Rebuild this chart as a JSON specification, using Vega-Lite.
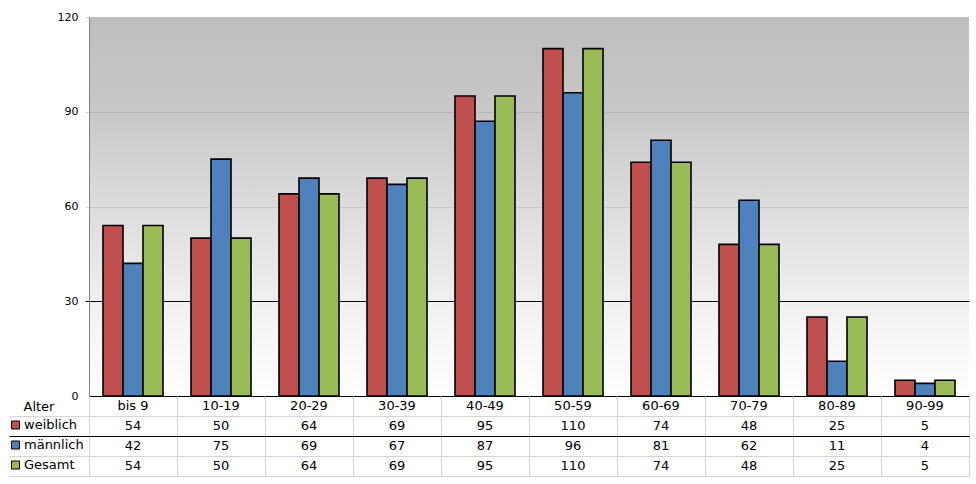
{
  "$schema": "https://vega.github.io/schema/vega-lite/v6.json",
  "background": "white",
  "padding": {"left": 8, "top": 11, "right": 8, "bottom": 5},
  "bounds": "flush",
  "config": {
    "font": "DejaVu Sans",
    "view": {"stroke": null},
    "axis": {"labelFont": "DejaVu Sans", "titleFont": "DejaVu Sans"}
  },
  "data": {
    "values": [
      {"age": "bis 9", "series": "weiblich", "value": 54},
      {"age": "bis 9", "series": "männlich", "value": 42},
      {"age": "bis 9", "series": "Gesamt", "value": 54},
      {"age": "10-19", "series": "weiblich", "value": 50},
      {"age": "10-19", "series": "männlich", "value": 75},
      {"age": "10-19", "series": "Gesamt", "value": 50},
      {"age": "20-29", "series": "weiblich", "value": 64},
      {"age": "20-29", "series": "männlich", "value": 69},
      {"age": "20-29", "series": "Gesamt", "value": 64},
      {"age": "30-39", "series": "weiblich", "value": 69},
      {"age": "30-39", "series": "männlich", "value": 67},
      {"age": "30-39", "series": "Gesamt", "value": 69},
      {"age": "40-49", "series": "weiblich", "value": 95},
      {"age": "40-49", "series": "männlich", "value": 87},
      {"age": "40-49", "series": "Gesamt", "value": 95},
      {"age": "50-59", "series": "weiblich", "value": 110},
      {"age": "50-59", "series": "männlich", "value": 96},
      {"age": "50-59", "series": "Gesamt", "value": 110},
      {"age": "60-69", "series": "weiblich", "value": 74},
      {"age": "60-69", "series": "männlich", "value": 81},
      {"age": "60-69", "series": "Gesamt", "value": 74},
      {"age": "70-79", "series": "weiblich", "value": 48},
      {"age": "70-79", "series": "männlich", "value": 62},
      {"age": "70-79", "series": "Gesamt", "value": 48},
      {"age": "80-89", "series": "weiblich", "value": 25},
      {"age": "80-89", "series": "männlich", "value": 11},
      {"age": "80-89", "series": "Gesamt", "value": 25},
      {"age": "90-99", "series": "weiblich", "value": 5},
      {"age": "90-99", "series": "männlich", "value": 4},
      {"age": "90-99", "series": "Gesamt", "value": 5}
    ]
  },
  "spacing": 0,
  "vconcat": [
    {
      "width": 880,
      "height": 379,
      "view": {
        "stroke": null,
        "fill": {
          "gradient": "linear",
          "x1": 0, "y1": 0, "x2": 0, "y2": 1,
          "stops": [
            {"offset": 0, "color": "#bebebe"},
            {"offset": 0.25, "color": "#c8c8c8"},
            {"offset": 0.5, "color": "#dcdcdc"},
            {"offset": 0.75, "color": "#f0f0f0"},
            {"offset": 1, "color": "#ffffff"}
          ]
        }
      },
      "mark": {"type": "bar", "stroke": "black", "strokeWidth": 1.6},
      "encoding": {
        "x": {
          "field": "age",
          "type": "nominal",
          "sort": null,
          "axis": null,
          "scale": {"paddingInner": 0.318, "paddingOuter": 0.159}
        },
        "xOffset": {
          "field": "series",
          "type": "nominal",
          "sort": ["weiblich", "männlich", "Gesamt"],
          "scale": {"paddingInner": 0, "paddingOuter": 0}
        },
        "y": {
          "field": "value",
          "type": "quantitative",
          "scale": {"domain": [0, 120], "nice": false},
          "axis": {
            "title": null,
            "values": [0, 30, 60, 90, 120],
            "labelFontSize": 11,
            "labelColor": "#000000",
            "labelPadding": 7,
            "tickSize": 4,
            "domainColor": "#808080",
            "tickColor": {
              "condition": [
                {"test": "datum.value == 30", "value": "#000000"},
                {"test": "datum.value == 0", "value": "transparent"}
              ],
              "value": "#d8d8d8"
            },
            "gridColor": {
              "condition": [
                {"test": "datum.value == 0 || datum.value == 30", "value": "#000000"},
                {"test": "datum.value == 120", "value": "transparent"}
              ],
              "value": "rgba(0,0,0,0.09)"
            },
            "grid": true
          }
        },
        "color": {
          "field": "series",
          "type": "nominal",
          "sort": ["weiblich", "männlich", "Gesamt"],
          "scale": {"range": ["#C0504D", "#4F81BD", "#9BBB59"]},
          "legend": {
            "title": null,
            "orient": "none",
            "legendX": -80,
            "legendY": 398,
            "symbolType": "square",
            "symbolSize": 64,
            "symbolStrokeColor": "black",
            "symbolStrokeWidth": 1,
            "labelFontSize": 13,
            "labelFont": "DejaVu Sans",
            "labelColor": "#000000",
            "labelOffset": 2,
            "clipHeight": 20,
            "rowPadding": 0,
            "padding": 0
          }
        }
      }
    },
    {
      "width": 880,
      "height": 80,
      "view": {"stroke": null},
      "encoding": {
        "x": {
          "field": "age",
          "type": "nominal",
          "sort": null,
          "scale": {"paddingInner": 0, "paddingOuter": 0},
          "axis": {
            "title": null,
            "orient": "bottom",
            "labels": false,
            "ticks": false,
            "domainColor": "#d4d4d4",
            "grid": true,
            "tickBand": "extent",
            "gridColor": "#d4d4d4"
          }
        },
        "y": {
          "field": "series",
          "type": "nominal",
          "scale": {"domain": ["Alter", "weiblich", "männlich", "Gesamt"], "paddingInner": 0, "paddingOuter": 0},
          "axis": {
            "title": null,
            "tickBand": "extent",
            "tickSize": 80,
            "tickColor": {
              "condition": [
                {"test": "datum.extra || datum.value == null", "value": "transparent"},
                {"test": "datum.value === 'weiblich'", "value": "#000000"}
              ],
              "value": "#d4d4d4"
            },
            "grid": true,
            "gridColor": {
              "condition": [
                {"test": "datum.extra || datum.value == null", "value": "transparent"},
                {"test": "datum.value === 'weiblich'", "value": "#000000"}
              ],
              "value": "#d4d4d4"
            },
            "domain": false,
            "labelExpr": "datum.value === 'Alter' ? 'Alter' : ''",
            "labelAlign": "left",
            "labelBaseline": "middle",
            "labelPadding": -14,
            "labelFontSize": 13,
            "labelColor": "#000000"
          }
        }
      },
      "layer": [
        {
          "mark": {"type": "text", "fontSize": 13, "color": "#000000"},
          "encoding": {
            "text": {"field": "value", "type": "quantitative"}
          }
        },
        {
          "transform": [{"filter": "datum.series === 'weiblich'"}],
          "mark": {"type": "text", "fontSize": 13, "color": "#000000"},
          "encoding": {
            "y": {"datum": "Alter", "type": "nominal"},
            "text": {"field": "age", "type": "nominal"}
          }
        }
      ]
    }
  ]
}
